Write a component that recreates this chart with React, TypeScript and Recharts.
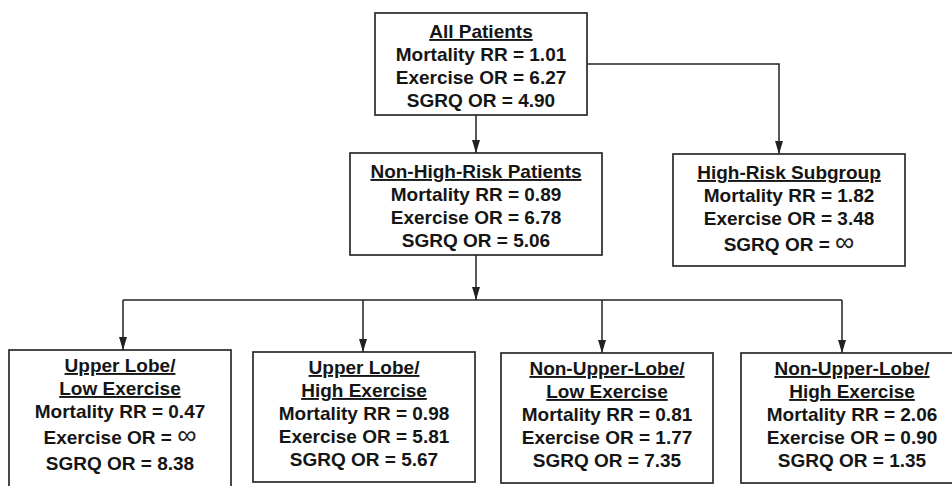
import React from 'react';
import { ScatterChart, Scatter, XAxis, YAxis } from 'recharts';

// node content
const nodeTitles = [
  ['All Patients'],
  ['Non-High-Risk Patients'],
  ['High-Risk Subgroup'],
  ['Upper Lobe/', 'Low Exercise'],
  ['Upper Lobe/', 'High Exercise'],
  ['Non-Upper-Lobe/', 'Low Exercise'],
  ['Non-Upper-Lobe/', 'High Exercise'],
];
const mortalityRR = ['1.01', '0.89', '1.82', '0.47', '0.98', '0.81', '2.06'];
const exerciseOR = ['6.27', '6.78', '3.48', '∞', '5.81', '1.77', '0.90'];
const sgrqOR = ['4.90', '5.06', '∞', '8.38', '5.67', '7.35', '1.35'];

// tree layout in chart units (x: 0-952, y: 0-486 top down)
const boxLeft = [375, 350, 673, 9, 253, 501, 741];
const boxTop = [13, 153, 154, 350, 352, 353, 353];
const boxWidth = [212, 252, 232, 222, 222, 212, 222];
const boxHeight = [102, 102, 112, 140, 130, 130, 130];
const portX = [476, 476, 779, 123, 363, 602, 842];
const busY = 300;

const W = 952;
const H = 486;
const FONT = '"Liberation Sans", Arial, Helvetica, sans-serif';
const INK = '#151515';

const nodes = nodeTitles.map((title, i) => ({
  x: boxLeft[i],
  y: boxTop[i],
  w: boxWidth[i],
  h: boxHeight[i],
  title,
  rows: [
    `Mortality RR = ${mortalityRR[i]}`,
    `Exercise OR = ${exerciseOR[i]}`,
    `SGRQ OR = ${sgrqOR[i]}`,
  ],
}));

const bottom = (i: number) => boxTop[i] + boxHeight[i];

const edges = [
  [
    { x: portX[1], y: bottom(0) },
    { x: portX[1], y: boxTop[1], arrow: true },
  ],
  [
    { x: boxLeft[0] + boxWidth[0], y: boxTop[0] + boxHeight[0] / 2 },
    { x: portX[2], y: boxTop[0] + boxHeight[0] / 2 },
    { x: portX[2], y: boxTop[2], arrow: true },
  ],
  [
    { x: portX[1], y: bottom(1) },
    { x: portX[1], y: busY, arrow: true },
  ],
  [
    { x: portX[3], y: busY },
    { x: portX[6], y: busY },
  ],
  ...[3, 4, 5, 6].map((c) => [
    { x: portX[c], y: busY },
    { x: portX[c], y: boxTop[c], arrow: true },
  ]),
];

const ArrowShape = (props: any) => {
  const { cx, cy, payload } = props;
  if (!payload || !payload.arrow) return <g />;
  return <path d={`M${cx - 4},${cy - 13} L${cx + 4},${cy - 13} L${cx},${cy} Z`} fill="#222" />;
};

const NodeShape = (props: any) => {
  const { cx, cy, payload } = props;
  const { w, h, title, rows } = payload;
  const mid = cx + w / 2;
  const items: { text: string; underline: boolean; y: number }[] = [];
  let y = cy + (title.length > 1 ? 22 : 25);
  title.forEach((t: string) => {
    items.push({ text: t, underline: true, y });
    y += 23;
  });
  rows.forEach((t: string) => {
    const inf = t.includes('∞');
    if (inf) y += 3;
    items.push({ text: t, underline: false, y });
    y += 23 + (inf ? 3 : 0);
  });
  return (
    <g>
      <rect x={cx} y={cy} width={w} height={h} fill="#fff" stroke="#2a2a2a" strokeWidth={1.7} />
      {items.map((it, k) => {
        const parts = it.text.split('∞');
        return (
          <text
            key={k}
            x={mid}
            y={it.y}
            textAnchor="middle"
            fontFamily={FONT}
            fontWeight="bold"
            fontSize={19}
            fill={INK}
            style={it.underline ? { textDecoration: 'underline' } : undefined}
          >
            {parts.length > 1 ? (
              <>
                <tspan>{parts[0]}</tspan>
                <tspan fontWeight="normal" fontSize={27} fill="#222">∞</tspan>
              </>
            ) : (
              it.text
            )}
          </text>
        );
      })}
    </g>
  );
};

export default function App() {
  return (
    <div style={{ position: 'absolute', left: 0, top: 0, width: W, height: H, overflow: 'hidden', background: '#fff' }}>
      <ScatterChart width={W} height={H} margin={{ top: 0, right: 0, bottom: 0, left: 0 }}>
        <XAxis type="number" dataKey="x" domain={[0, W]} hide />
        <YAxis type="number" dataKey="y" domain={[0, H]} reversed hide />
        {edges.map((pts, i) => (
          <Scatter
            key={`e${i}`}
            data={pts}
            fill="#222"
            line={{ stroke: '#222', strokeWidth: 1.5 }}
            shape={<ArrowShape />}
            isAnimationActive={false}
          />
        ))}
        <Scatter data={nodes} fill="#fff" shape={<NodeShape />} isAnimationActive={false} />
      </ScatterChart>
    </div>
  );
}
